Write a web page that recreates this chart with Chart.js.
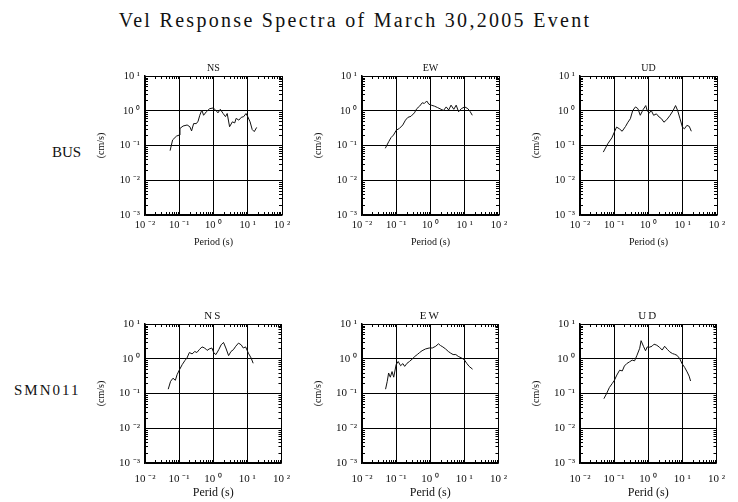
<!DOCTYPE html>
<html><head><meta charset="utf-8">
<script src="https://cdn.jsdelivr.net/npm/chart.js@4/dist/chart.umd.min.js"></script>
<style>
html,body{margin:0;padding:0;background:#fff;width:738px;height:502px;overflow:hidden;position:relative;font-family:"Liberation Serif",serif;color:#000;}
canvas{position:absolute;}
.lbl{position:absolute;white-space:nowrap;color:#111;}
</style></head><body>
<div class="lbl" id="mainTitle" style="left:-14px;width:738px;text-align:center;top:9px;font-size:20px;letter-spacing:2.3px;">Vel Response Spectra of March 30,2005 Event</div>
<div class="lbl" id="row0" style="left:52px;top:144px;font-size:15px;">BUS</div>
<div class="lbl" id="row1" style="left:14px;top:382px;font-size:15px;letter-spacing:2px;">SMN011</div>
<canvas id="p0"></canvas><canvas id="p1"></canvas><canvas id="p2"></canvas>
<canvas id="p3"></canvas><canvas id="p4"></canvas><canvas id="p5"></canvas>
<script>
// ---- data ----
const stations = ['BUS', 'SMN011'];
const components = ['NS', 'EW', 'UD'];
const chartTitle = 'Vel Response Spectra of March 30,2005 Event';
const yAxisTitle = '(cm/s)';
const xAxisTitles = ['Period (s)', 'Perid (s)'];
const xTickValues = [0.01, 0.1, 1, 10, 100];
const xTickLabels = ['10 \u207B\u00B2', '10 \u207B\u00B9', '10 \u2070', '10 \u00B9', '10 \u00B2'];
const yTickValues = [0.001, 0.01, 0.1, 1, 10];
const yTickLabels = ['10 \u207B\u00B3', '10 \u207B\u00B2', '10 \u207B\u00B9', '10 \u2070', '10 \u00B9'];

const busNsPeriod = [0.054,0.064,0.083,0.1,0.105,0.129,0.17,0.204,0.229,0.263,0.316,0.355,0.398,0.457,0.513,0.617,0.776,0.977,1.15,1.35,1.58,1.91,2.24,2.51,2.95,3.55,4.17,4.57,5.5,6.46,7.59,8.91,10.0,11.7,13.5,15.5,18.2];
const busNsVel    = [0.071,0.145,0.186,0.2,0.309,0.363,0.389,0.347,0.263,0.427,0.427,0.501,0.741,1.05,0.741,0.933,1.15,1.2,1.05,0.871,1.1,0.832,0.676,0.832,0.347,0.479,0.447,0.603,0.537,0.646,0.676,0.832,0.676,0.479,0.288,0.251,0.331];

const busEwPeriod = [0.0479,0.0603,0.0708,0.0832,0.1,0.123,0.155,0.186,0.219,0.269,0.339,0.398,0.479,0.575,0.661,0.776,0.891,1.05,1.32,1.62,2.04,2.40,2.88,3.39,3.98,4.79,5.62,6.61,7.94,10.0,12.3,14.5,16.6];
const busEwVel    = [0.0832,0.129,0.170,0.2,0.275,0.309,0.389,0.537,0.646,0.692,0.871,1.15,1.35,1.70,1.62,1.91,1.55,1.45,1.35,1.23,1.10,1.02,1.29,1.05,1.45,1.10,1.45,0.933,1.15,1.29,1.15,0.933,0.741];

const busUdPeriod = [0.0479,0.0646,0.0851,0.1,0.117,0.141,0.170,0.214,0.251,0.295,0.347,0.417,0.490,0.575,0.692,0.832,0.912,1.05,1.20,1.41,1.70,2.04,2.40,2.82,3.39,4.27,5.25,6.17,7.08,8.32,9.77,11.2,13.2,15.5,17.8];
const busUdVel    = [0.0646,0.112,0.166,0.240,0.339,0.302,0.257,0.355,0.468,0.589,1.02,1.29,1.15,0.741,1.07,1.41,1.02,0.851,1.02,0.741,0.813,0.661,0.589,0.468,0.550,0.741,1.02,1.41,1.02,0.589,0.339,0.302,0.380,0.355,0.257];

const smnNsPeriod = [0.0479,0.0562,0.0661,0.0776,0.0871,0.102,0.123,0.148,0.170,0.2,0.240,0.288,0.331,0.389,0.468,0.562,0.661,0.759,0.912,1.05,1.20,1.45,1.70,2.0,2.34,2.82,3.31,3.89,4.57,5.50,6.61,7.59,8.91,10.7,12.9,14.8];
const smnNsVel    = [0.133,0.224,0.275,0.240,0.347,0.479,0.676,0.891,1.05,1.51,1.38,1.62,1.51,1.82,2.19,2.04,1.74,1.91,2.04,1.45,1.32,1.82,2.51,2.95,2.04,1.23,1.62,1.82,2.29,2.82,2.51,2.04,2.19,1.45,1.05,0.741];

const smnEwPeriod = [0.049,0.055,0.0603,0.0676,0.0759,0.0851,0.1,0.115,0.135,0.158,0.178,0.209,0.245,0.295,0.355,0.417,0.490,0.575,0.724,0.933,1.15,1.45,1.74,2.0,2.34,2.82,3.39,3.98,4.68,5.62,6.61,8.32,10.0,11.7,13.8,17.4];
const smnEwVel    = [0.133,0.224,0.389,0.295,0.427,0.295,0.676,0.832,0.631,0.724,0.603,0.741,0.832,0.977,1.17,1.32,1.51,1.70,1.91,2.04,2.04,2.29,2.69,2.40,2.19,1.91,1.62,1.45,1.32,1.32,1.17,1.05,0.933,0.741,0.603,0.501];

const smnUdPeriod = [0.0501,0.0603,0.0724,0.0871,0.102,0.120,0.145,0.174,0.2,0.234,0.282,0.339,0.398,0.468,0.562,0.617,0.724,0.832,0.933,1.07,1.29,1.48,1.78,2.14,2.57,3.02,3.63,4.27,5.13,5.89,6.92,8.32,9.77,11.7,13.8,15.8,17.4];
const smnUdVel    = [0.0708,0.1,0.148,0.191,0.240,0.339,0.468,0.447,0.617,0.724,0.813,0.912,0.871,1.26,2.0,3.31,2.29,1.70,2.19,2.14,2.29,2.63,2.45,2.14,1.78,2.29,1.86,1.58,1.41,1.35,1.26,1.02,0.724,0.562,0.417,0.316,0.229];

const panelSeries = [
  [busNsPeriod, busNsVel], [busEwPeriod, busEwVel], [busUdPeriod, busUdVel],
  [smnNsPeriod, smnNsVel], [smnEwPeriod, smnEwVel], [smnUdPeriod, smnUdVel]
];

// ---- layout ----
const colLeft = [145, 362, 580];
const rowTop = [76, 324];
const areaW = 137, areaH = 139;
const yAxisW = 58, padTop = 18, padRight = 18;
const xAxisH = [36, 38];
const FONT = '"Liberation Serif", "Times New Roman", serif';

const minorTicks = {
  id: 'minorTicks',
  afterDraw(chart, args, opts) {
    const {ctx, chartArea: a, scales: {x, y}} = chart;
    ctx.save();
    ctx.strokeStyle = '#000';
    ctx.lineWidth = 1;
    ctx.beginPath();
    for (let k = -2; k < 2; k++) {
      for (let m = 2; m < 10; m++) {
        const px = Math.round(x.getPixelForValue(m * Math.pow(10, k))) + 0.5;
        ctx.moveTo(px, a.bottom); ctx.lineTo(px, a.bottom - 3);
        ctx.moveTo(px, a.top); ctx.lineTo(px, a.top + 3);
      }
    }
    for (let k = -3; k < 1; k++) {
      for (let m = 2; m < 10; m++) {
        const py = Math.round(y.getPixelForValue(m * Math.pow(10, k))) + 0.5;
        ctx.moveTo(a.left, py); ctx.lineTo(a.left + 3, py);
        ctx.moveTo(a.right, py); ctx.lineTo(a.right - 3, py);
      }
    }
    ctx.stroke();
    // panel title
    ctx.fillStyle = '#111';
    ctx.font = opts.size + 'px ' + FONT;
    ctx.textAlign = 'center';
    ctx.textBaseline = 'alphabetic';
    if ('letterSpacing' in ctx) ctx.letterSpacing = opts.spacing + 'px';
    ctx.fillText(opts.text, (a.left + a.right) / 2, a.top - 5);
    ctx.restore();
  }
};

panelSeries.forEach(([T, V], i) => {
  const row = Math.floor(i / 3), col = i % 3;
  const cv = document.getElementById('p' + i);
  const w = yAxisW + areaW + padRight;
  const h = padTop + areaH + xAxisH[row];
  cv.width = w; cv.height = h;
  cv.style.left = (colLeft[col] - yAxisW) + 'px';
  cv.style.top = (rowTop[row] - padTop) + 'px';
  cv.style.width = w + 'px'; cv.style.height = h + 'px';
  const tickSize = row === 0 ? 10.5 : 11;
  new Chart(cv, {
    type: 'line',
    data: {
      datasets: [{
        data: T.map((t, j) => ({x: t, y: V[j]})),
        borderColor: '#111', borderWidth: 1, pointRadius: 0, tension: 0, fill: false
      }]
    },
    plugins: [minorTicks],
    options: {
      responsive: false, animation: false, events: [],
      layout: {padding: {top: padTop, right: padRight, left: 0, bottom: 0}},
      plugins: {
        legend: {display: false}, tooltip: {enabled: false},
        minorTicks: {text: components[col], size: row === 0 ? 10 : 11, spacing: row === 0 ? 0 : 2}
      },
      scales: {
        x: {
          type: 'logarithmic', min: 0.01, max: 100,
          afterBuildTicks: s => { s.ticks = xTickValues.map(v => ({value: v})); },
          afterFit: s => { s.height = xAxisH[row]; },
          ticks: {
            autoSkip: false, maxRotation: 0, minRotation: 0, color: '#111',
            padding: row === 0 ? 4 : 10,
            font: {family: FONT, size: tickSize},
            callback: v => xTickLabels[xTickValues.indexOf(v)]
          },
          grid: {color: '#000', lineWidth: 1, drawTicks: false},
          border: {color: '#000', width: 1.5},
          title: {display: true, text: xAxisTitles[row], color: '#111',
                  font: {family: FONT, size: row === 0 ? 10 : 12},
                  padding: {top: 0, bottom: row === 0 ? 3 : 1}}
        },
        y: {
          type: 'logarithmic', min: 0.001, max: 10,
          afterBuildTicks: s => { s.ticks = yTickValues.map(v => ({value: v})); },
          afterFit: s => { s.width = yAxisW; },
          ticks: {
            autoSkip: false, color: '#111', padding: 5,
            font: {family: FONT, size: tickSize},
            callback: v => yTickLabels[yTickValues.indexOf(v)]
          },
          grid: {color: '#000', lineWidth: 1, drawTicks: false},
          border: {color: '#000', width: 1.5},
          title: {display: true, text: yAxisTitle, color: '#111',
                  font: {family: FONT, size: 10},
                  padding: {top: 8, bottom: 0}}
        }
      }
    }
  });
});
</script>
</body></html>
